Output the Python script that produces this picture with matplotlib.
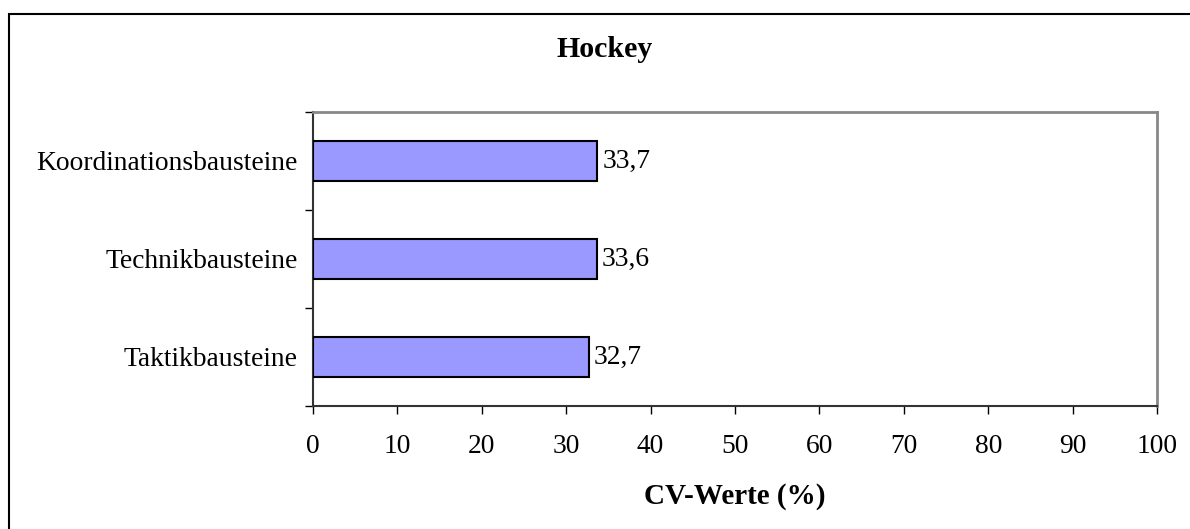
import matplotlib
matplotlib.use("Agg")
import matplotlib.pyplot as plt
from matplotlib.patches import Rectangle
from matplotlib.ticker import FixedLocator, NullFormatter

categories = ["Taktikbausteine", "Technikbausteine", "Koordinationsbausteine"]
values = [32.7, 33.6, 33.7]
value_labels = ["32,7", "33,6", "33,7"]
xticks = [0, 10, 20, 30, 40, 50, 60, 70, 80, 90, 100]

plt.rcParams['font.family'] = ['Liberation Serif', 'DejaVu Serif']

W, H = 1190, 529
FS = 19.8
fig = plt.figure(figsize=(W / 100, H / 100), dpi=100)
ax = fig.add_axes([313 / W, 1 - 406 / H, (1157 - 313) / W, (406 - 112) / H])

ypos = list(range(len(categories)))
ax.barh(ypos, values, height=0.4, color="#9999FF", edgecolor="black", linewidth=1.5, zorder=3)
for y, v, lab in zip(ypos, values, value_labels):
    ax.text(v + 0.6, y, lab, va="center", ha="left", fontsize=FS)

ax.set_xlim(0, 100)
ax.set_ylim(-0.5, len(categories) - 0.5)
ax.set_xticks(xticks)
ax.set_xticklabels([str(t) for t in xticks], fontsize=FS)
ax.yaxis.set_major_locator(FixedLocator([-0.5, 0.5, 1.5, 2.5]))
ax.yaxis.set_major_formatter(NullFormatter())
ax.yaxis.set_minor_locator(FixedLocator(ypos))
ax.set_yticklabels(categories, minor=True, fontsize=FS)
ax.tick_params(axis="y", which="minor", length=0, pad=11)
ax.tick_params(axis="y", which="major", length=6, width=1, direction="out", color="black")
ax.tick_params(axis="x", which="major", length=6, width=1, direction="out", color="black", pad=14.5)

for s in ["left", "bottom"]:
    ax.spines[s].set_color("#333333")
    ax.spines[s].set_linewidth(1.5)
for s in ["top", "right"]:
    ax.spines[s].set_color("#888888")
    ax.spines[s].set_linewidth(2)

ax.set_xlabel("CV-Werte (%)", fontsize=21, fontweight="bold", labelpad=17)
fig.text(605 / W, 1 - 57 / H, "Hockey", ha="center", va="baseline",
         fontsize=21.5, fontweight="bold")

fig.patches.append(Rectangle((8.5 / W, -0.1), 1.2, 1 - 13.5 / H + 0.1, transform=fig.transFigure,
                             fill=False, edgecolor="black", linewidth=1.5))

fig.savefig("out.png", dpi=100)
